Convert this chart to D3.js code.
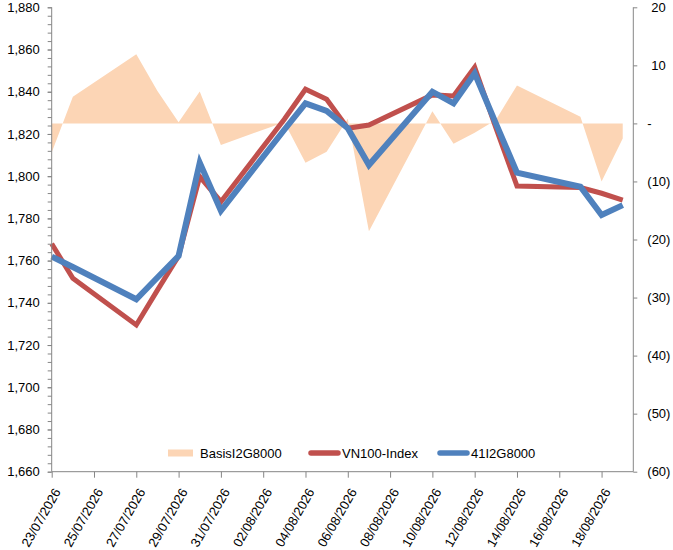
<!DOCTYPE html>
<html lang="en">
<head>
<meta charset="UTF-8">
<title>VN100 vs 41I2G8000 basis</title>
<script src="https://d3js.org/d3.v7.min.js"></script>
<style>
  body { margin: 0; background: #fff; font-family: Arial, "Liberation Sans", sans-serif; }
  .axis path, .axis line { stroke: #868686; }
  .axis text { fill: #000; font-size: 13px; font-family: Arial, "Liberation Sans", sans-serif; }
</style>
</head>
<body>
<div id="chart"></div>
<script>
// trading days
const dates = ["23/07/2026","24/07/2026","27/07/2026","28/07/2026","29/07/2026","30/07/2026","31/07/2026",
  "03/08/2026","04/08/2026","05/08/2026","06/08/2026","07/08/2026",
  "10/08/2026","11/08/2026","12/08/2026","13/08/2026","14/08/2026",
  "17/08/2026","18/08/2026","19/08/2026"];

// VN100 index (left axis)
const vn100 = [1768, 1751.6, 1729.5, 1746, 1762.2, 1799.8, 1787.9,
  1827, 1841.2, 1836.4, 1822.7, 1824.2,
  1838.5, 1838, 1851.6, 1823, 1795.3,
  1794.6, 1791.9, 1788.7];

// futures 41I2G8000 (left axis)
const fut = [1761.9, 1757, 1741.7, 1752, 1762.2, 1806.4, 1783.6,
  1822, 1834.5, 1830.9, 1822.7, 1805.3,
  1840, 1834.5, 1848.7, 1825, 1801.7,
  1795, 1781.6, 1786.3];

// basis (right axis)
const basis = [-5, 4.6, 11.9, 5.6, 0.2, 5.5, -3.7,
  0.2, -6.8, -4.9, 0.8, -18.6,
  2.1, -3.5, -1.6, 0.6, 6.55,
  1.15, -10, -2.6];

const leftTicks = d3.range(1660, 1881, 20);
const rightTicks = d3.range(-60, 21, 10);
const seriesNames = ["BasisI2G8000", "VN100-Index", "41I2G8000"];

const W = 673, H = 550;
const m = { top: 7.3, right: 39.7, bottom: 78.3, left: 51.7 };
const iw = W - m.left - m.right, ih = H - m.top - m.bottom;

const parse = d3.utcParse("%d/%m/%Y");
const dd = dates.map(parse);
const start = dd[0];
const end = d3.utcHour.offset(dd[dd.length - 1], 12);

const x = d3.scaleUtc().domain([start, end]).range([0, iw]);
const yL = d3.scaleLinear().domain([1660, 1880]).range([ih, 0]);
const yR = d3.scaleLinear().domain([-60, 20]).range([ih, 0]);

const svg = d3.select("#chart").append("svg")
  .attr("width", W).attr("height", H);
const g = svg.append("g").attr("transform", `translate(${m.left},${m.top})`);

// basis area
const area = d3.area()
  .x((d, i) => x(dd[i]))
  .y0(yR(0))
  .y1(d => yR(d));
g.append("path").datum(basis)
  .attr("d", area)
  .attr("fill", "#FCD5B5");

const line = d3.line().x((d, i) => x(dd[i])).y(d => yL(d));
g.append("path").datum(vn100)
  .attr("d", line).attr("fill", "none")
  .attr("stroke", "#C0504D").attr("stroke-width", 5);
g.append("path").datum(fut)
  .attr("d", line).attr("fill", "none")
  .attr("stroke", "#4F81BD").attr("stroke-width", 6);

// left axis with minor ticks
g.append("g").attr("class", "axis")
  .call(d3.axisLeft(yL).tickValues(d3.range(1660, 1881, 4)).tickSize(4).tickFormat(""))
  .call(s => s.select(".domain").remove());
g.append("g").attr("class", "axis")
  .call(d3.axisLeft(yL).tickValues(leftTicks).tickSize(4).tickPadding(8).tickFormat(d3.format(",")))
  .call(s => s.select(".domain").attr("d", `M0,0V${ih}`));

// right axis, accounting style labels
const acct = d => d === 0 ? "-" : d < 0 ? `(${-d})` : `${d}`;
const ra = g.append("g").attr("class", "axis")
  .attr("transform", `translate(${iw},0)`)
  .call(d3.axisRight(yR).tickValues(rightTicks).tickSize(4).tickFormat(acct));
ra.select(".domain").attr("d", `M0,0V${ih}`);
ra.selectAll(".tick text")
  .attr("x", d => d > 0 ? 18 : 14);

// x axis
const xTicks = d3.utcDay.range(start, end, 2);
const xa = g.append("g").attr("class", "axis")
  .attr("transform", `translate(0,${ih})`)
  .call(d3.axisBottom(x).tickValues(xTicks).tickSize(6).tickFormat(d3.utcFormat("%d/%m/%Y")));
xa.select(".domain").attr("d", `M0,0H${iw}`);
xa.selectAll(".tick text")
  .attr("text-anchor", "end")
  .attr("dy", null)
  .attr("x", 0).attr("y", 0)
  .attr("transform", "translate(9,20) rotate(-60)");

// legend
const leg = svg.append("g").attr("transform", "translate(0,453)");
const items = [
  { name: seriesNames[0], x: 168, w: 25, color: "#FCD5B5", kind: "area" },
  { name: seriesNames[1], x: 311, w: 27, color: "#C0504D", kind: "line" },
  { name: seriesNames[2], x: 440, w: 27, color: "#4F81BD", kind: "line" }
];
items.forEach(it => {
  if (it.kind === "area") {
    leg.append("rect").attr("x", it.x).attr("y", -3.5).attr("width", it.w).attr("height", 7)
      .attr("fill", it.color);
  } else {
    leg.append("line").attr("x1", it.x).attr("x2", it.x + it.w).attr("y1", 0).attr("y2", 0)
      .attr("stroke", it.color).attr("stroke-width", 5.5).attr("stroke-linecap", "round");
  }
  leg.append("text").attr("x", it.x + it.w + (it.kind === "area" ? 7 : 4)).attr("y", 0)
    .attr("dy", "0.35em").attr("font-size", 13).attr("fill", "#000")
    .text(it.name);
});
</script>
</body>
</html>
